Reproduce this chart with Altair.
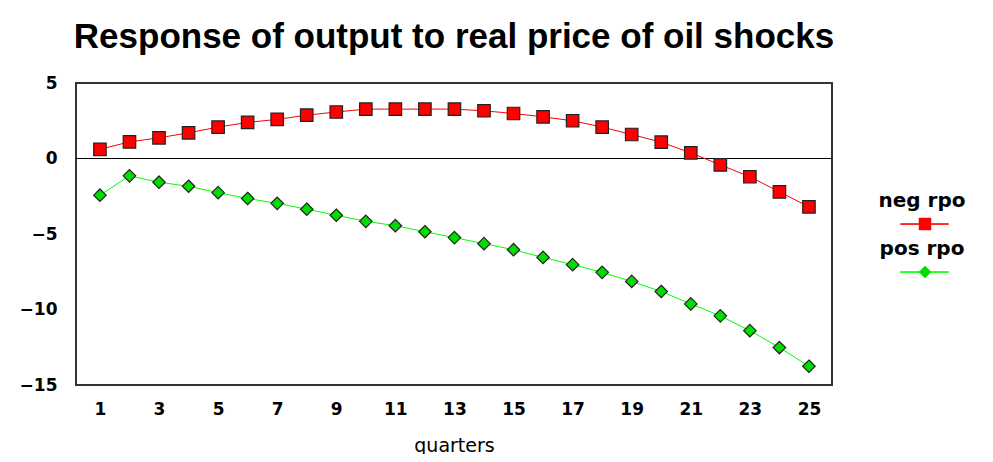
import altair as alt
import pandas as pd

# ---- data ----
quarters = list(range(1, 26))
neg_rpo = [0.61, 1.1, 1.37, 1.7, 2.08, 2.39, 2.59, 2.87, 3.08, 3.27, 3.27, 3.27, 3.27,
           3.16, 2.98, 2.76, 2.5, 2.08, 1.59, 1.08, 0.37, -0.42, -1.21, -2.21, -3.2]
pos_rpo = [-2.43, -1.15, -1.57, -1.84, -2.26, -2.65, -2.97, -3.36, -3.76, -4.16, -4.45,
           -4.85, -5.24, -5.64, -6.04, -6.55, -7.03, -7.54, -8.14, -8.81, -9.63, -10.42,
           -11.4, -12.52, -13.76]
series_names = ["neg rpo", "pos rpo"]
x_ticks = list(range(1, 26, 2))
y_ticks = [-15, -10, -5, 0, 5]
title_text = "Response of output to real price of oil shocks"
x_title = "quarters"

rows = []
for name, vals in zip(series_names, [neg_rpo, pos_rpo]):
    for q, v in zip(quarters, vals):
        rows.append({"quarter": q, "value": v, "series": name})
df = pd.DataFrame(rows)
df["series_m"] = df["series"]
zero_df = pd.DataFrame({"value": [0]})

line_colors = ["#ff0000", "#00ff00"]
fill_colors = ["#ff0000", "#00dd00"]
square_path = "M-0.26,-0.26H0.26V0.26H-0.26Z"
diamond_path = "M0,-0.26L0.26,0L0,0.26L-0.26,0Z"
legend_line_path = "M0.125,0.7H2.125V0.72H0.125Z"

x_enc = alt.X(
    "quarter:Q",
    scale=alt.Scale(domain=[0.19, 25.78], nice=False, zero=False),
    axis=alt.Axis(values=x_ticks, title=x_title, domain=False, ticks=False, tickSize=0,
                  grid=False, labelFont="DejaVu Sans", labelFontWeight="bold",
                  labelFontSize=17, labelColor="black", labelPadding=16,
                  titleFont="DejaVu Sans", titleFontWeight="normal", titleFontSize=19,
                  titleColor="black", titlePadding=19),
)
y_enc = alt.Y(
    "value:Q",
    scale=alt.Scale(domain=[-15, 5], nice=False, zero=False),
    axis=alt.Axis(values=y_ticks, title=None, domain=False, ticks=False, tickSize=0,
                  grid=False, labelFont="DejaVu Sans", labelFontWeight="bold",
                  labelFontSize=17, labelColor="black", labelPadding=19),
)

legend_common = dict(
    orient="none", title=None, symbolSize=2304, rowPadding=0, padding=0,
    clipHeight=48, labelFont="DejaVu Sans", labelFontWeight="bold", labelFontSize=20,
    labelAlign="center", labelOffset=0, labelBaseline="alphabetic",
)

base = alt.Chart(df)

zero_rule = alt.Chart(zero_df).mark_rule(color="#000000", strokeWidth=1.2).encode(
    y=alt.Y("value:Q", scale=alt.Scale(domain=[-15, 5], nice=False, zero=False))
)

lines = base.mark_line(strokeWidth=1).encode(
    x=x_enc, y=y_enc,
    color=alt.Color("series:N",
                    scale=alt.Scale(domain=series_names, range=line_colors),
                    legend=alt.Legend(symbolType=legend_line_path, symbolStrokeWidth=1,
                                      labelColor="black", legendX=797, legendY=100,
                                      **legend_common)),
)

pt_legend = alt.Legend(symbolStrokeColor="#222222", symbolStrokeWidth=1.2,
                       labelExpr="''", legendX=824, legendY=117, **legend_common)
points = base.mark_point(filled=True, size=2304, stroke="#222222", strokeWidth=1.2,
                         opacity=1).encode(
    x=x_enc, y=y_enc,
    fill=alt.Fill("series_m:N", scale=alt.Scale(range=fill_colors), legend=pt_legend),
    shape=alt.Shape("series_m:N", scale=alt.Scale(range=[square_path, diamond_path]),
                    legend=pt_legend),
)

chart = alt.layer(zero_rule, lines, points).properties(
    width=756, height=302,
    background="white",
    title=alt.TitleParams(title_text, font="Liberation Sans", fontSize=35,
                          fontWeight="bold", anchor="middle", offset=-16,
                          baseline="bottom", color="black"),
    autosize=alt.AutoSizeParams(type="none"),
    padding={"left": 68, "top": 75, "right": 150, "bottom": 69},
).configure_view(stroke="#333333", strokeWidth=2)

chart.save("out.html", embed_options={"renderer": "svg", "actions": False})
